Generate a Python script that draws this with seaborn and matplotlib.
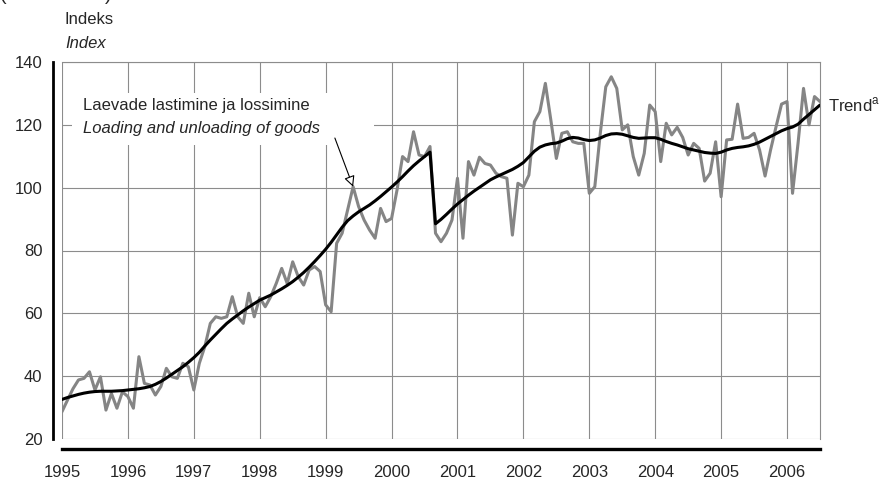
import numpy as np
import pandas as pd
import matplotlib
matplotlib.use('Agg')
import matplotlib.pyplot as plt
from matplotlib.patches import Rectangle
import seaborn as sns

# monthly index, Jan 1995 .. Jul 2006
start_year = 1995
loading = [28.7, 32.4, 36.0, 38.8, 39.3, 41.4, 35.6, 39.8, 29.2, 34.5, 29.8, 35.0,
           33.5, 29.8, 46.2, 37.7, 37.2, 34.0, 36.7, 42.5, 39.8, 39.3, 44.1, 43.0,
           35.6, 44.1, 49.4, 56.8, 58.9, 58.4, 58.9, 65.3, 58.9, 56.8, 66.4, 58.9,
           65.0, 62.1, 65.3, 69.5, 74.3, 69.5, 76.4, 71.7, 69.0, 73.8, 74.9, 73.3,
           62.7, 60.5, 82.3, 85.5, 92.9, 100.3, 94.0, 89.7, 86.5, 83.9, 93.4, 89.2,
           90.2, 99.3, 109.9, 108.3, 117.8, 110.4, 109.9, 113.1, 85.5, 82.8, 85.5, 89.7,
           103.0, 83.9, 108.3, 104.0, 109.7, 107.7, 107.2, 104.6, 103.5, 103.0, 84.9, 101.4,
           100.3, 104.0, 121.0, 124.2, 133.2, 121.5, 109.3, 117.3, 117.8, 114.6, 114.1, 114.1,
           98.2, 100.3, 117.3, 132.1, 135.3, 131.6, 118.4, 120.0, 109.9, 104.0, 110.9, 126.3,
           124.2, 108.3, 120.5, 116.8, 119.2, 116.0, 110.4, 114.1, 112.5, 102.1, 104.6, 114.6,
           97.1, 115.2, 115.4, 126.6, 115.7, 116.0, 117.3, 112.0, 103.7, 112.0, 119.4, 126.6,
           127.4, 98.2, 114.1, 131.6, 120.0, 129.0, 127.4]
trend = [32.6, 33.2, 33.7, 34.2, 34.6, 34.9, 35.1, 35.2, 35.2, 35.2, 35.3, 35.4,
         35.6, 35.8, 36.0, 36.3, 36.7, 37.4, 38.3, 39.4, 40.6, 41.8, 43.0, 44.4,
         45.9, 47.6, 49.6, 51.5, 53.3, 55.1, 56.8, 58.2, 59.5, 60.8, 62.0, 63.1,
         64.2, 65.0, 65.8, 66.8, 67.8, 68.9, 70.1, 71.5, 73.0, 74.7, 76.5, 78.4,
         80.4, 82.6, 85.0, 87.4, 89.5, 91.0, 92.3, 93.4, 94.5, 95.8, 97.2, 98.7,
         100.2, 101.8, 103.5, 105.3, 107.0, 108.5, 109.9, 111.3, 88.5, 89.9, 91.5, 93.2,
         94.8, 96.2, 97.6, 98.9, 100.1, 101.3, 102.5, 103.4, 104.2, 105.0, 105.8, 106.8,
         108.0, 109.8, 111.6, 112.9, 113.6, 114.0, 114.2, 114.8, 115.6, 116.0, 115.8, 115.3,
         115.0, 115.2, 115.8, 116.6, 117.1, 117.2, 117.0, 116.5, 116.0, 115.7, 115.8, 115.9,
         115.9, 115.4, 114.7, 114.1, 113.6, 113.0, 112.4, 112.0, 111.6, 111.2, 111.0, 110.9,
         111.3, 112.0, 112.5, 112.8, 113.0, 113.3, 113.8, 114.5, 115.4, 116.3, 117.2, 118.1,
         118.8, 119.3, 120.2, 121.8, 123.3, 124.8, 126.3]
year_ticks = list(range(1995, 2007))
y_ticks = [20, 40, 60, 80, 100, 120, 140]

df = pd.DataFrame({
    'year': start_year + np.arange(len(loading)) / 12,
    'loading': loading,
    'trend': trend,
})

sns.set_style('white')
plt.rcParams['font.family'] = ['Liberation Sans', 'DejaVu Sans']
plt.rcParams['font.size'] = 12
plt.rcParams['mathtext.fontset'] = 'custom'
plt.rcParams['mathtext.rm'] = 'Liberation Sans'

fig = plt.figure(figsize=(8.82, 4.82), dpi=100)
ax = fig.add_axes([62 / 882, 1 - 439 / 482, (820 - 62) / 882, (439 - 62) / 482])

grid_col = '#8c8c8c'
sns.lineplot(data=df, x='year', y='loading', ax=ax, color='#858585', lw=2.2,
             legend=False, zorder=2)
sns.lineplot(data=df, x='year', y='trend', ax=ax, color='black', lw=2.2,
             legend=False, zorder=3)

ax.set_xlim(1995, 2006.5)
ax.set_ylim(20, 140)
ax.set_xticks(year_ticks)
ax.set_yticks(y_ticks)
ax.set_xlabel('')
ax.set_ylabel('')
ax.grid(True, color=grid_col, lw=0.8)
ax.set_axisbelow(True)

for side in ['top', 'right']:
    ax.spines[side].set_color(grid_col)
    ax.spines[side].set_linewidth(0.8)
ax.spines['left'].set_position(('outward', 6.5))
ax.spines['left'].set_color('black')
ax.spines['left'].set_linewidth(2)
ax.spines['bottom'].set_position(('outward', 7.2))
ax.spines['bottom'].set_color('black')
ax.spines['bottom'].set_linewidth(2.4)
ax.tick_params(axis='y', direction='out', length=3.5, width=1.2, color='black', pad=4, labelsize=12)
ax.tick_params(axis='x', direction='out', length=3.6, width=1.2, color='black', pad=8, labelsize=12)

# white box behind the series caption
ax.add_patch(Rectangle((1995.15, 113.6), 4.59, 16.5, facecolor='white',
                       edgecolor='none', zorder=1))
ax.text(1995.32, 126.3, 'Laevade lastimine ja lossimine', va='center', ha='left',
        fontsize=12, zorder=4)
ax.text(1995.32, 118.7, 'Loading and unloading of goods', va='center', ha='left',
        fontsize=12, style='italic', zorder=4)
ax.annotate('', xy=(df['year'][53], loading[53]), xytext=(1999.14, 115.8),
            arrowprops=dict(arrowstyle='-|>', fc='white', ec='black', lw=0.8,
                            mutation_scale=16, shrinkA=0, shrinkB=0), zorder=4)

ax.annotate(r'Trend$^{\rm a}$', xy=(df['year'].iloc[-1], trend[-1]), xytext=(6, 0),
            textcoords='offset points', va='center', ha='left', fontsize=12,
            annotation_clip=False)

fig.text(65 / 882, 1 - 20 / 482, 'Indeks', va='center', ha='left', fontsize=12)
fig.text(65 / 882, 1 - 44 / 482, 'Index', va='center', ha='left', fontsize=12, style='italic')
# header line cropped at the top edge, as in the source picture
fig.text(0.0, 1 + 0.5 / 482, '(2000 = 100)', va='baseline', ha='left', fontsize=14)

fig.savefig('out.png', dpi=100)
